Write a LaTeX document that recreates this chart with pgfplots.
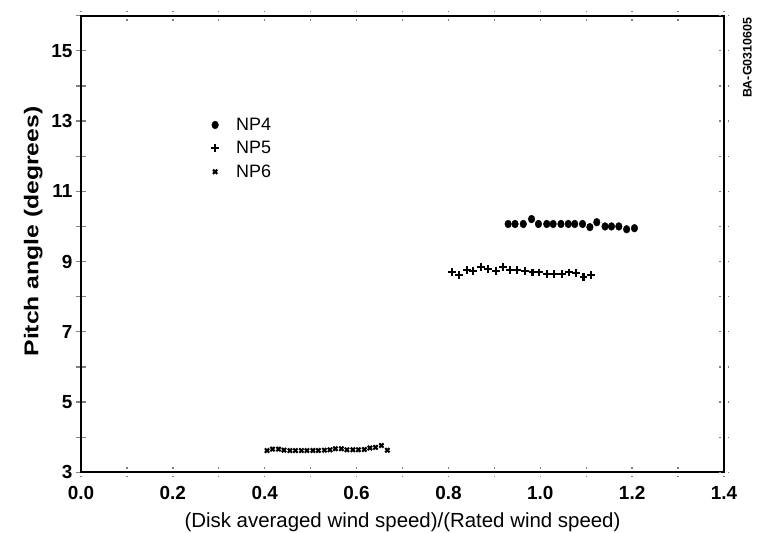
\documentclass[border=0pt]{standalone}
\usepackage{pgfplots}
\pgfplotsset{compat=1.18}
\usepackage{fontspec}
\setmainfont{Liberation Sans}
\begin{document}
\begin{tikzpicture}
\begin{axis}[
  scale only axis,
  width=643bp, height=456.6bp,
  xmin=0, xmax=1.4, ymin=3, ymax=16,
  clip=false,
  axis line style={line width=1.7bp},
  xtick={0,0.2,0.4,0.6,0.8,1.0,1.2,1.4},
  xticklabels={0.0,0.2,0.4,0.6,0.8,1.0,1.2,1.4},
  minor xtick={0.1,0.3,0.5,0.7,0.9,1.1,1.3},
  ytick={3,5,7,9,11,13,15},
  yticklabels={3,5,7,9,11,13,15},
  minor ytick={4,6,8,10,12,14,16},
  ytick pos=left,
  tick align=center,
  major tick length=10bp, minor tick length=10bp,
  xtick style={line width=1.3bp, dash pattern=on 1.5bp off 7bp on 1.5bp},
  ytick style={line width=1.3bp},
  ticklabel style={font=\bfseries\fontsize{19}{19}\selectfont},
  xticklabel style={anchor=base, yshift=-22bp},
  xlabel={(Disk averaged wind speed)/(Rated wind speed)},
  xlabel style={at={(axis description cs:0.5,0)}, anchor=base, yshift=-54.7bp, font=\fontsize{20.5}{20.5}\selectfont},
  ylabel={\scalebox{1.24}[1]{Pitch angle (degrees)}},
  ylabel style={at={(axis description cs:-0.0742,0.5274)}, anchor=center, font=\bfseries\fontsize{20}{20}\selectfont},
  legend style={at={(axis cs:0.2743,13.148)}, anchor=north west, draw=none, fill=none,
    font=\fontsize{18}{18}\selectfont, row sep=5.5bp, inner sep=0pt},
  legend cell align=left,
  legend image code/.code={\path[draw=none,fill=none] (0bp,-2bp) rectangle (27bp,2bp);
    \draw[#1,mark repeat=2,mark phase=2] plot coordinates {(0bp,0bp) (8bp,0bp) (27bp,0bp)};},
]
\addplot[only marks, mark=*, mark size=3.9bp, mark options={xscale=0.85, fill=black, draw=black}] coordinates {
(0.930,10.07) (0.945,10.07) (0.963,10.07) (0.981,10.21) (0.996,10.07) (1.014,10.07)
(1.028,10.07) (1.045,10.07) (1.061,10.07) (1.075,10.07) (1.092,10.07) (1.108,9.98)
(1.123,10.12) (1.141,10.00) (1.155,10.00) (1.171,10.00) (1.188,9.92) (1.205,9.95)
};
\addlegendentry{NP4}
\addplot[only marks, mark=+, mark size=3.9bp, mark options={line width=2.1bp, draw=black}] coordinates {
(0.807,8.70) (0.823,8.62) (0.840,8.76) (0.854,8.74) (0.871,8.84) (0.887,8.79)
(0.904,8.74) (0.919,8.84) (0.934,8.76) (0.950,8.76) (0.967,8.73) (0.983,8.69)
(0.997,8.69) (1.014,8.64) (1.030,8.64) (1.047,8.64) (1.063,8.69) (1.078,8.67)
(1.094,8.56) (1.110,8.62)
};
\addlegendentry{NP5}
\addplot[only marks, mark=x, mark size=3bp, mark options={line width=2.1bp, draw=black}] coordinates {
(0.405,3.62) (0.417,3.66) (0.430,3.66) (0.442,3.63) (0.455,3.62) (0.467,3.62)
(0.480,3.62) (0.492,3.62) (0.505,3.62) (0.517,3.62) (0.530,3.63) (0.542,3.64)
(0.554,3.67) (0.567,3.67) (0.579,3.64) (0.592,3.64) (0.604,3.64) (0.617,3.65)
(0.629,3.69) (0.641,3.71) (0.654,3.76) (0.667,3.63)
};
\addlegendentry{NP6}
\node[rotate=90, font=\bfseries\fontsize{12.5}{12.5}\selectfont] at (axis cs:1.451,14.8) {BA-G0310605};
\end{axis}
\begin{axis}[
  scale only axis,
  width=643bp, height=456.6bp,
  xmin=0, xmax=1.4, ymin=3, ymax=16,
  axis x line=none, axis y line*=right,
  axis line style={line width=1.7bp},
  ytick={3,4,...,16}, yticklabels={},
  tick align=center, major tick length=10bp,
  ytick style={line width=1.3bp, dash pattern=on 1.5bp off 7bp on 1.5bp},
]
\end{axis}
\pgfresetboundingbox
\path[use as bounding box] ([shift={(-81bp,-60.7bp)}]current axis.south west) rectangle ([shift={(44bp,15.7bp)}]current axis.north east);
\end{tikzpicture}
\end{document}
